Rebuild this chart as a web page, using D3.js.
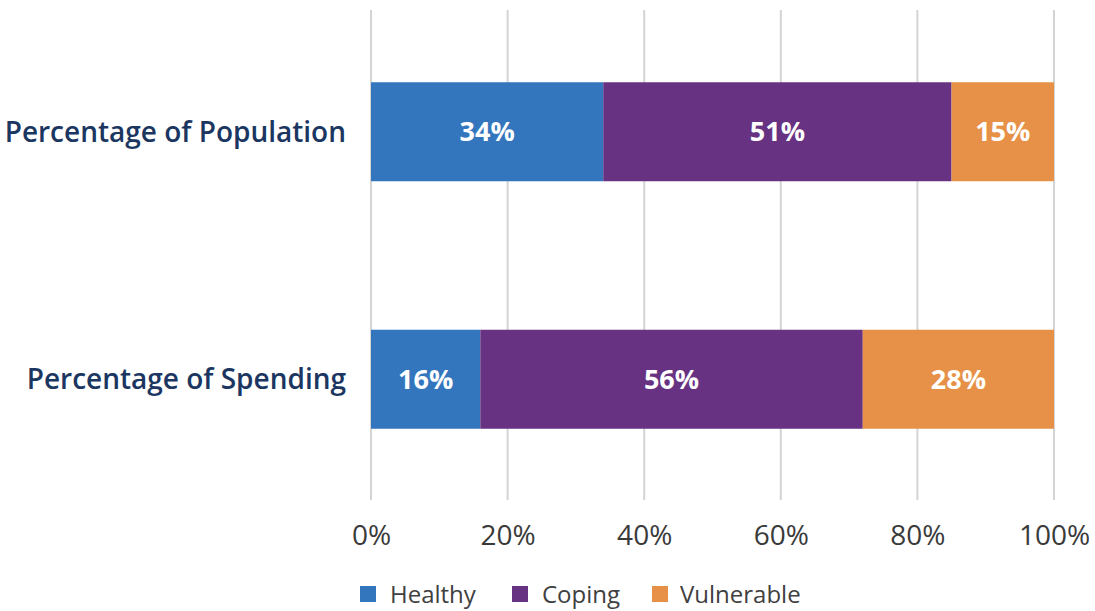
<!DOCTYPE html>
<html><head><meta charset="utf-8">
<script src="https://cdn.jsdelivr.net/npm/d3@7/dist/d3.min.js"></script>
<style>body{margin:0;background:#fff;}svg{display:block;font-family:"Open Sans",sans-serif;}</style>
</head><body>
<svg id="chart" width="1095" height="611"></svg>
<script>
const categories = ["Percentage of Population", "Percentage of Spending"];
const seriesNames = ["Healthy", "Coping", "Vulnerable"];
const healthy = [34, 16];
const coping = [51, 56];
const vulnerable = [15, 28];
const tickValues = [0, 20, 40, 60, 80, 100];
const colors = ["#3376be", "#673282", "#e69147"];

const svg = d3.select("#chart");
const x = d3.scaleLinear().domain([0, 100]).range([371, 1054]);
const y = d3.scaleBand().domain(categories).range([8, 503]).paddingInner(0.6).paddingOuter(0.3);

// gridlines
svg.append("g").selectAll("line").data(tickValues).join("line")
  .attr("x1", d => x(d)).attr("x2", d => x(d))
  .attr("y1", 10).attr("y2", 500)
  .attr("stroke", "#d4d4d4").attr("stroke-width", 2);

const rows = categories.map((c, i) => ({cat: c, Healthy: healthy[i], Coping: coping[i], Vulnerable: vulnerable[i]}));
const stack = d3.stack().keys(seriesNames)(rows);

const layers = svg.append("g").selectAll("g").data(stack).join("g")
  .attr("fill", (d, i) => colors[i]);
layers.selectAll("rect").data(d => d).join("rect")
  .attr("x", d => x(d[0])).attr("width", d => x(d[1]) - x(d[0]))
  .attr("y", d => y(d.data.cat)).attr("height", y.bandwidth());

const labels = svg.append("g").selectAll("g").data(stack).join("g");
labels.selectAll("text").data(d => d.map(v => ({v, key: d.key}))).join("text")
  .attr("x", d => (x(d.v[0]) + x(d.v[1])) / 2)
  .attr("y", d => y(d.v.data.cat) + y.bandwidth() / 2)
  .attr("dy", "0.35em").attr("text-anchor", "middle")
  .attr("fill", "#fff").attr("font-weight", "bold").attr("font-size", 27)
  .text(d => (d.v[1] - d.v[0]) + "%");

// category labels
svg.append("g").selectAll("text").data(categories).join("text")
  .attr("x", 346).attr("y", d => y(d) + y.bandwidth() / 2)
  .attr("dy", "0.35em").attr("text-anchor", "end")
  .attr("fill", "#1b3661").attr("font-size", 28).attr("font-weight", 600)
  .text(d => d);

// x axis
const xAxis = d3.axisBottom(x).tickValues(tickValues).tickFormat(d => d + "%").tickSize(0).tickPadding(0);
const ax = svg.append("g").attr("transform", "translate(0,535)").call(xAxis);
ax.select(".domain").remove();
ax.selectAll("text").attr("font-size", 28).attr("fill", "#3a3a3a").attr("dy", "0.35em")
  .attr("font-family", "'Open Sans',sans-serif");

// legend
const legendX = [360, 512, 652];
const legendTextX = [390, 542, 680];
const lg = svg.append("g").selectAll("g").data(seriesNames).join("g")
  .attr("transform", (d, i) => `translate(${legendX[i]},586)`);
lg.append("rect").attr("width", 16).attr("height", 16).attr("fill", (d, i) => colors[i]);
lg.append("text").attr("x", (d, i) => legendTextX[i] - legendX[i]).attr("y", 9).attr("dy", "0.35em")
  .attr("font-size", 24).attr("fill", "#404040").text(d => d);
</script>
</body></html>
